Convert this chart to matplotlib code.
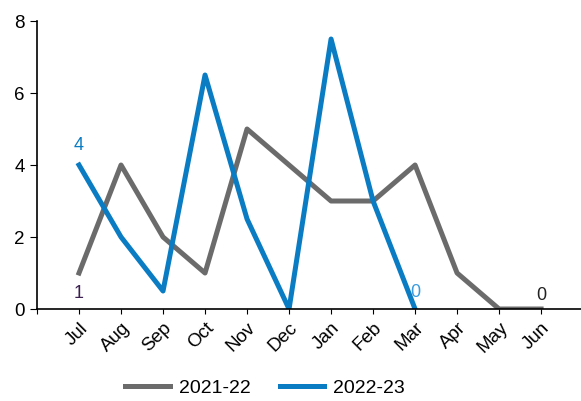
import numpy as np
import matplotlib
matplotlib.use('Agg')
import matplotlib.pyplot as plt

plt.rcParams['font.family'] = ['Liberation Sans', 'DejaVu Sans']

months = ['Jul', 'Aug', 'Sep', 'Oct', 'Nov', 'Dec', 'Jan', 'Feb', 'Mar', 'Apr', 'May', 'Jun']
s2122 = [1, 4, 2, 1, 5, 4, 3, 3, 4, 1, 0, 0]
s2223 = [4, 2, 0.5, 6.5, 2.5, 0, 7.5, 3, 0]

grey = '#6b6b6b'
blue = '#0a7cc4'

fig = plt.figure(figsize=(5.81, 4.01), dpi=100)
ax = fig.add_axes([0.0637, 0.2294, 0.9363, 0.7182])

x = np.arange(len(months))
ax.plot(x, s2122, color=grey, lw=3.6, label='2021-22', solid_joinstyle='round')
ax.plot(x[:len(s2223)], s2223, color=blue, lw=3.6, label='2022-23', solid_joinstyle='round')

# data labels (first and last points)
ax.annotate(str(s2122[0]), (x[0], s2122[0]), xytext=(0, -14.5), textcoords='offset points',
            ha='center', va='center', fontsize=13, color='#3b1f4f')
ax.annotate(str(s2122[-1]), (x[-1], s2122[-1]), xytext=(0, 10), textcoords='offset points',
            ha='center', va='center', fontsize=13, color='#222222')
ax.annotate(str(s2223[0]), (x[0], s2223[0]), xytext=(0, 14), textcoords='offset points',
            ha='center', va='center', fontsize=13, color=blue)
ax.annotate(str(s2223[-1]), (x[len(s2223) - 1], s2223[-1]), xytext=(0, 12), textcoords='offset points',
            ha='center', va='center', fontsize=13, color='#3a9be0')

ax.set_xlim(-1, 11.95)
ax.set_ylim(0, 8)
ax.set_yticks([0, 2, 4, 6, 8])
ax.set_xticks(np.arange(-1, len(months)))
ax.set_xticklabels([''] + months, rotation=45, ha='right', rotation_mode='anchor')
ax.tick_params(axis='both', labelsize=13.5, direction='out', colors='black')
ax.tick_params(axis='y', length=5, pad=4)
ax.tick_params(axis='x', length=3.5, pad=4)
for s in ['top', 'right']:
    ax.spines[s].set_visible(False)
ax.spines['left'].set_linewidth(1.2)
ax.spines['bottom'].set_linewidth(1.2)

fig.legend(loc='center', bbox_to_anchor=(0.456, 0.032), ncol=2, frameon=False,
           fontsize=14, handlelength=2.3, handletextpad=0.45, columnspacing=1.5)

fig.savefig('out.png', dpi=100)
